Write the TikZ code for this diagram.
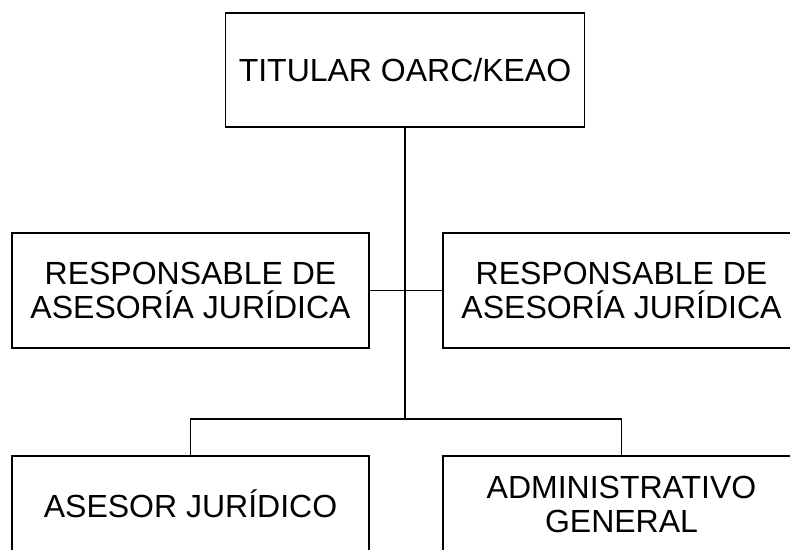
\documentclass[tikz,border=0pt]{standalone}
\usepackage{fontspec}
\setmainfont{Liberation Sans}
\usetikzlibrary{calc}

\begin{document}
\begin{tikzpicture}[x=1pt,y=-1pt,
    puesto/.style={draw,line width=1.8pt,align=center,inner sep=0pt,
      minimum width=357pt,minimum height=115pt,font=\fontsize{32}{34}\selectfont},
    enlace/.style={line width=1.6pt}]
        \useasboundingbox (0,0) rectangle (790,549);
        \clip (0,0) rectangle (790,549);% the boxes on the right and at the bottom run off the page
        \node [puesto,minimum width=359pt,minimum height=114pt] (tit) at (405,70) {TITULAR OARC/KEAO};
        \node [puesto] (resp1) at (190.5,290.5) {RESPONSABLE DE\\ASESORÍA JURÍDICA};
        \node [puesto] (resp2) at (621.5,290.5) {RESPONSABLE DE\\ASESORÍA JURÍDICA};
        \node [puesto,minimum height=96pt] (ases) at (190.5,504) {ASESOR JURÍDICO};
        \node [puesto,minimum height=96pt] (admin) at (621.5,504) {ADMINISTRATIVO\\GENERAL};
        \coordinate (bar) at ($(tit.south)+(0,291)$);
        \draw[enlace] (tit.south) -- (bar);
        \draw[enlace] (resp1.east) -- (resp2.west);
        \draw[enlace] (ases.north) |- (bar) -| (admin.north);
    \end{tikzpicture}
\end{document}
